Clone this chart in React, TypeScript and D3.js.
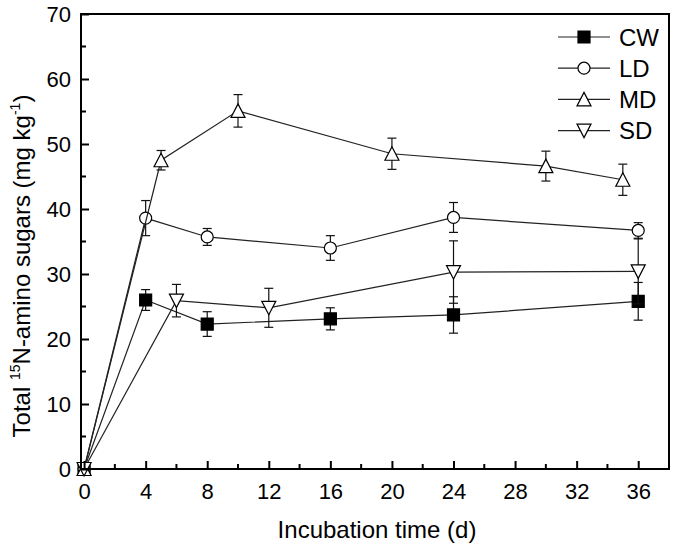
import { useEffect, useRef } from "react";
import * as d3 from "d3";

// series data (day, mean, error)
const cwDays = [0, 4, 8, 16, 24, 36];
const cwVals = [0, 26.0, 22.3, 23.1, 23.7, 25.8];
const cwErr = [0, 1.6, 1.9, 1.7, 2.8, 2.9];

const ldDays = [0, 4, 8, 16, 24, 36];
const ldVals = [0, 38.6, 35.7, 34.0, 38.7, 36.7];
const ldErr = [0, 2.7, 1.3, 1.9, 2.3, 1.2];

const mdDays = [0, 5, 10, 20, 30, 35];
const mdVals = [0, 47.5, 55.1, 48.5, 46.6, 44.5];
const mdErr = [0, 1.5, 2.5, 2.4, 2.3, 2.4];

const sdDays = [0, 6, 12, 24, 36];
const sdVals = [0, 25.9, 24.8, 30.3, 30.4];
const sdErr = [0, 2.5, 3.0, 4.8, 5.0];

const seriesNames = ["CW", "LD", "MD", "SD"];
const xTicks = [0, 4, 8, 12, 16, 20, 24, 28, 32, 36];
const yTicks = [0, 10, 20, 30, 40, 50, 60, 70];

type Shape = "square" | "circle" | "up" | "down";

interface Pt {
  x: number;
  y: number;
  e: number;
}

function toPoints(xs: number[], ys: number[], es: number[]): Pt[] {
  return xs.map((x, i) => ({ x, y: ys[i], e: es[i] }));
}

function markerPath(shape: Shape): string {
  if (shape === "square") return "M-6,-6H6V6H-6Z";
  if (shape === "circle") return "M6,0A6,6 0 1,1 -6,0A6,6 0 1,1 6,0Z";
  if (shape === "up") return "M0,-7L7,6.5L-7,6.5Z";
  return "M0,7L7,-6.5L-7,-6.5Z";
}

export default function App() {
  const svgRef = useRef<SVGSVGElement | null>(null);

  useEffect(() => {
    if (!svgRef.current) return;
    const svg = d3.select(svgRef.current);
    svg.selectAll("*").remove();

    const width = 675;
    const height = 550;
    const font = "'Liberation Sans', Arial, sans-serif";

    svg.attr("width", width).attr("height", height);
    svg.append("rect").attr("width", width).attr("height", height).attr("fill", "white");

    const x = d3.scaleLinear().domain([-0.2, 38]).range([81, 669]);
    const y = d3.scaleLinear().domain([0, 70]).range([469, 14]);

    const series = [
      { name: seriesNames[0], shape: "square" as Shape, fill: "black", pts: toPoints(cwDays, cwVals, cwErr) },
      { name: seriesNames[1], shape: "circle" as Shape, fill: "white", pts: toPoints(ldDays, ldVals, ldErr) },
      { name: seriesNames[2], shape: "up" as Shape, fill: "white", pts: toPoints(mdDays, mdVals, mdErr) },
      { name: seriesNames[3], shape: "down" as Shape, fill: "white", pts: toPoints(sdDays, sdVals, sdErr) },
    ];

    const line = d3
      .line<Pt>()
      .x((d) => x(d.x))
      .y((d) => y(d.y));

    series.forEach((s) => {
      const g = svg.append("g");
      g.append("path")
        .attr("d", line(s.pts))
        .attr("fill", "none")
        .attr("stroke", "#222")
        .attr("stroke-width", 1.2);

      const eb = g
        .selectAll("g.eb")
        .data(s.pts.filter((d) => d.e > 0))
        .enter()
        .append("g")
        .attr("stroke", "#111")
        .attr("stroke-width", 1.2);
      eb.append("line")
        .attr("x1", (d) => x(d.x))
        .attr("x2", (d) => x(d.x))
        .attr("y1", (d) => y(d.y + d.e))
        .attr("y2", (d) => y(d.y - d.e));
      eb.append("line")
        .attr("x1", (d) => x(d.x) - 4.5)
        .attr("x2", (d) => x(d.x) + 4.5)
        .attr("y1", (d) => y(d.y + d.e))
        .attr("y2", (d) => y(d.y + d.e));
      eb.append("line")
        .attr("x1", (d) => x(d.x) - 4.5)
        .attr("x2", (d) => x(d.x) + 4.5)
        .attr("y1", (d) => y(d.y - d.e))
        .attr("y2", (d) => y(d.y - d.e));

      g.selectAll("path.mk")
        .data(s.pts)
        .enter()
        .append("path")
        .attr("class", "mk")
        .attr("d", markerPath(s.shape))
        .attr("transform", (d) => `translate(${x(d.x)},${y(d.y)})`)
        .attr("fill", s.fill)
        .attr("stroke", "black")
        .attr("stroke-width", 1.2);
    });

    // frame
    svg
      .append("rect")
      .attr("x", 81)
      .attr("y", 14)
      .attr("width", 588)
      .attr("height", 455)
      .attr("fill", "none")
      .attr("stroke", "black")
      .attr("stroke-width", 2);

    // X axis
    const xAxis = d3
      .axisBottom(x)
      .tickValues(xTicks)
      .tickSize(-8)
      .tickPadding(14)
      .tickFormat(d3.format("d"));
    const gx = svg.append("g").attr("transform", "translate(0,469)").call(xAxis);
    gx.select(".domain").remove();
    gx.selectAll("line").attr("stroke-width", 2);
    gx.selectAll("text").attr("font-family", font).attr("font-size", 22).attr("fill", "black");
    svg
      .append("g")
      .selectAll("line")
      .data(d3.range(2, 38, 4))
      .enter()
      .append("line")
      .attr("x1", (d) => x(d))
      .attr("x2", (d) => x(d))
      .attr("y1", 469)
      .attr("y2", 464)
      .attr("stroke", "black")
      .attr("stroke-width", 2);

    // Y axis
    const yAxis = d3
      .axisLeft(y)
      .tickValues(yTicks)
      .tickSize(-8)
      .tickPadding(10)
      .tickFormat(d3.format("d"));
    const gy = svg.append("g").attr("transform", "translate(81,0)").call(yAxis);
    gy.select(".domain").remove();
    gy.selectAll("line").attr("stroke-width", 2);
    gy.selectAll("text").attr("font-family", font).attr("font-size", 22).attr("fill", "black");
    svg
      .append("g")
      .selectAll("line")
      .data(d3.range(5, 70, 10))
      .enter()
      .append("line")
      .attr("x1", 81)
      .attr("x2", 86)
      .attr("y1", (d) => y(d))
      .attr("y2", (d) => y(d))
      .attr("stroke", "black")
      .attr("stroke-width", 2);

    // X axis label
    svg
      .append("text")
      .attr("x", 377)
      .attr("y", 538)
      .attr("text-anchor", "middle")
      .attr("font-family", font)
      .attr("font-size", 24)
      .text("Incubation time (d)");

    // Y axis label
    const yl = svg
      .append("text")
      .attr("transform", "translate(30,266) rotate(-90)")
      .attr("text-anchor", "middle")
      .attr("font-family", font)
      .attr("font-size", 24);
    yl.append("tspan").text("Total ");
    yl.append("tspan").attr("font-size", 14).attr("dy", -10).text("15");
    yl.append("tspan").attr("dy", 10).text("N-amino sugars (mg kg");
    yl.append("tspan").attr("font-size", 14).attr("dy", -10).text("-1");
    yl.append("tspan").attr("dy", 10).text(")");

    // legend
    const lg = svg
      .append("g")
      .selectAll("g")
      .data(series)
      .enter()
      .append("g")
      .attr("transform", (_, i) => `translate(0,${37 + i * 31.2})`);
    lg.append("line")
      .attr("x1", 558)
      .attr("x2", 610)
      .attr("stroke", "#222")
      .attr("stroke-width", 1.2);
    lg.append("path")
      .attr("d", (d) => markerPath(d.shape))
      .attr("transform", "translate(584,0)")
      .attr("fill", (d) => d.fill)
      .attr("stroke", "black")
      .attr("stroke-width", 1.2);
    lg.append("text")
      .attr("x", 619)
      .attr("dy", "0.36em")
      .attr("font-family", font)
      .attr("font-size", 24)
      .text((d) => d.name);
  }, []);

  return <svg ref={svgRef} style={{ position: "absolute", left: 0, top: 0 }}></svg>;
}
